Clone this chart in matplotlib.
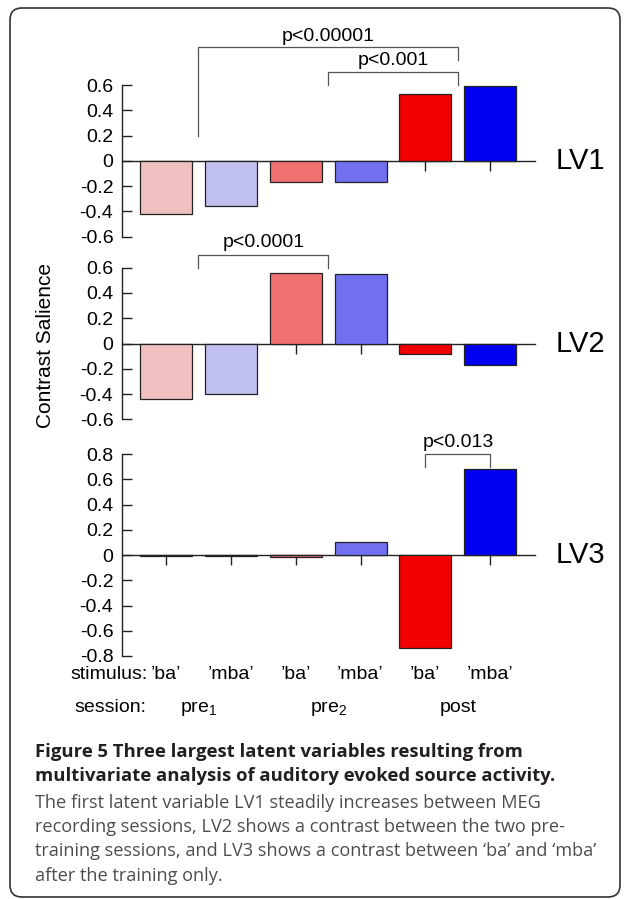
import matplotlib
matplotlib.use('Agg')
import matplotlib.pyplot as plt
from matplotlib.patches import FancyBboxPatch
from matplotlib.transforms import IdentityTransform, blended_transform_factory

plt.rcParams['font.family'] = 'Liberation Sans'
plt.rcParams['mathtext.fontset'] = 'custom'
plt.rcParams['mathtext.rm'] = 'Liberation Sans'
plt.rcParams['mathtext.it'] = 'Liberation Sans:italic'
plt.rcParams['axes.unicode_minus'] = False

# data
stimuli = ['\u2019ba\u2019', '\u2019mba\u2019', '\u2019ba\u2019', '\u2019mba\u2019', '\u2019ba\u2019', '\u2019mba\u2019']
sessions = ['pre$_1$', 'pre$_2$', 'post']
session_pos = [0.5, 2.5, 4.5]
bar_colors = ['#f0c0c0', '#c0c0f0', '#f07070', '#7070f0', '#f00000', '#0000f0']
lv1 = [-0.42, -0.36, -0.17, -0.17, 0.53, 0.59]
lv2 = [-0.44, -0.40, 0.56, 0.55, -0.085, -0.17]
lv3 = [-0.006, -0.01, -0.015, 0.10, -0.74, 0.68]
lv_names = ['LV1', 'LV2', 'LV3']
yticks12 = [-0.6, -0.4, -0.2, 0, 0.2, 0.4, 0.6]
yticks3 = [-0.8, -0.6, -0.4, -0.2, 0, 0.2, 0.4, 0.6, 0.8]

# brackets: (x left, x right, y top, y left end, y right end, label, label y)
brackets1 = [(0.5, 4.5, 0.90, 0.20, 0.80, 'p<0.00001', 0.98),
             (2.5, 4.5, 0.70, 0.60, 0.60, 'p<0.001', 0.79)]
brackets2 = [(0.5, 2.5, 0.70, 0.60, 0.60, 'p<0.0001', 0.80)]
brackets3 = [(4.0, 5.0, 0.80, 0.70, 0.70, 'p<0.013', 0.89)]

caption_title = ['Figure 5 Three largest latent variables resulting from',
                 'multivariate analysis of auditory evoked source activity.']
caption_body = ['The first latent variable LV1 steadily increases between MEG',
                'recording sessions, LV2 shows a contrast between the two pre-',
                'training sessions, and LV3 shows a contrast between \u2018ba\u2019 and \u2018mba\u2019',
                'after the training only.']

W, H = 625, 899
fig = plt.figure(figsize=(W / 100, H / 100), dpi=100)

# panel rects in pixels: (top, bottom)
rects = [(85.0, 236.7), (267.7, 419.3), (454.0, 656.0)]
left_px, right_px = 121.7, 535.0
values = [lv1, lv2, lv3]
ylims = [(-0.6, 0.6), (-0.6, 0.6), (-0.8, 0.8)]
ticks = [yticks12, yticks12, yticks3]
brackets = [brackets1, brackets2, brackets3]
xs = list(range(len(stimuli)))

axes = []
for k in range(3):
    top, bot = rects[k]
    ax = fig.add_axes([left_px / W, 1 - bot / H, (right_px - left_px) / W, (bot - top) / H])
    axes.append(ax)
    ax.bar(xs, values[k], width=0.8, color=bar_colors, edgecolor='#222222', linewidth=0.9, zorder=3)
    ax.set_xlim(-0.684, 5.69)
    ax.set_ylim(*ylims[k])
    ax.spines['top'].set_visible(False)
    ax.spines['right'].set_visible(False)
    ax.spines['bottom'].set_position(('data', 0))
    ax.spines['left'].set_bounds(ylims[k][0], ylims[k][1])
    for s in ['left', 'bottom']:
        ax.spines[s].set_linewidth(1.0)
        ax.spines[s].set_color('#222222')
    ax.set_yticks(ticks[k])
    ax.set_yticklabels(['%g' % t for t in ticks[k]])
    ax.set_xticks(xs)
    ax.set_xticklabels([])
    ax.tick_params(axis='y', direction='in', length=7, width=1.0, pad=6, labelsize=14, color='#222222')
    ax.tick_params(axis='x', direction='out', length=7, width=1.0, color='#222222')
    ax.patch.set_visible(False)

    for (xa, xb, yt, ya, yb, lab, ly) in brackets[k]:
        ax.plot([xa, xa, xb, xb], [ya, yt, yt, yb], color='#555555', lw=0.9, clip_on=False)
        ax.text((xa + xb) / 2, ly, lab, ha='center', va='center', fontsize=14)

    tr = blended_transform_factory(ax.transAxes, ax.transData)
    ax.text(1.051, 0, lv_names[k], transform=tr, ha='left', va='center', fontsize=21)

ax3 = axes[2]
trb = blended_transform_factory(ax3.transData, ax3.transAxes)
for i, s in enumerate(stimuli):
    ax3.text(xs[i], -0.114, s, transform=trb, ha='center', va='baseline', fontsize=14)
ax3.text(-0.28, -0.114, 'stimulus:', transform=trb, ha='right', va='baseline', fontsize=14)
for p, s in zip(session_pos, sessions):
    ax3.text(p, -0.277, s, transform=trb, ha='center', va='baseline', fontsize=14)
ax3.text(-0.30, -0.277, 'session:', transform=trb, ha='right', va='baseline', fontsize=14)

fig.text(45.5 / W, 1 - 345 / H, 'Contrast Salience', rotation=90, ha='center', va='center', fontsize=15)

# caption
title_y = [752, 776]
body_y = [803, 827, 851, 876]
for t, y in zip(caption_title, title_y):
    fig.text(35 / W, 1 - y / H, t, ha='left', va='center', fontsize=13.3,
             family='Open Sans', weight='bold', color='#231f20')
for t, y in zip(caption_body, body_y):
    fig.text(35 / W, 1 - y / H, t, ha='left', va='center', fontsize=13.1,
             family='Open Sans', color='#4d4d4d')

border = FancyBboxPatch((10, 2), 610, 889, boxstyle='round,pad=0,rounding_size=12',
                        transform=IdentityTransform(), fill=False, edgecolor='#333333', linewidth=1.2)
fig.add_artist(border)

fig.savefig('out.png', dpi=100)
